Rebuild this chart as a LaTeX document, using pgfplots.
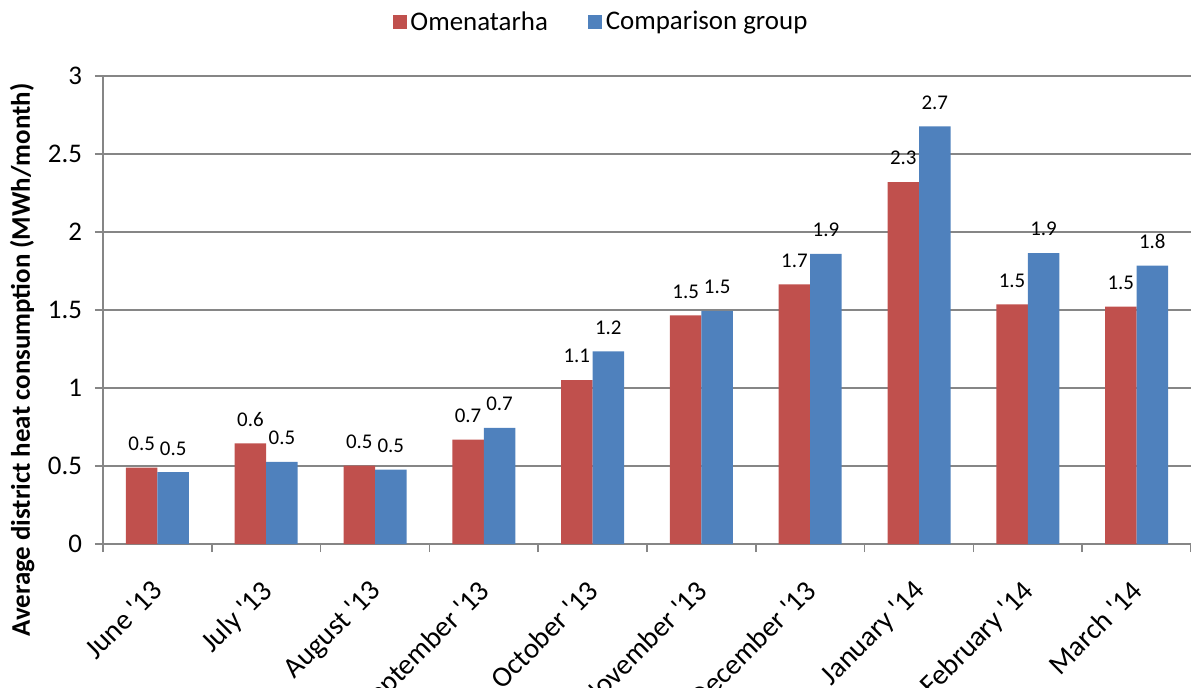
\documentclass[border=0pt]{standalone}
\usepackage{pgfplots}
\pgfplotsset{compat=1.18}
\usepackage{fontspec}
\setmainfont{Carlito}
\definecolor{redbar}{HTML}{C0504D}
\definecolor{bluebar}{HTML}{4F81BD}
\definecolor{gridgray}{HTML}{868686}
\newcommand{\q}{\textquotesingle}
\pgfplotsset{
  sqlegend/.style={legend image code/.code={\fill[##1] (0bp,-3.5bp) rectangle (7bp,3.5bp);}},
}
\begin{document}
\begin{tikzpicture}
\useasboundingbox (0,0) rectangle (595.5bp,344bp);
\begin{axis}[
    at={(51.5bp,72bp)}, anchor=south west,
    scale only axis, width=544bp, height=234bp,
    ybar=0pt, bar width=15.75bp,
    xmin=-0.5, xmax=9.5, ymin=0, ymax=3,
    xtick={0,...,9},
    xticklabels={June \q13, July \q13, August \q13, September \q13, October \q13,
                 November \q13, December \q13, January \q14, February \q14, March \q14},
    minor xtick={-0.5,0.5,...,9.5},
    ytick={0,0.5,...,3},
    yticklabels={0,0.5,1,1.5,2,2.5,3},
    axis x line*=bottom, axis y line*=left,
    axis line style={gridgray, line width=0.75bp, -},
    tick align=outside,
    major x tick style={draw=none},
    minor x tick style={gridgray, line width=0.75bp},
    major y tick style={gridgray, line width=0.75bp},
    major tick length=4bp, minor tick length=4bp,
    ymajorgrids, grid style={gridgray, line width=0.75bp},
    yticklabel style={font=\fontsize{13.5}{15}\selectfont, text=black, xshift=-3bp},
    xticklabel style={font=\fontsize{14.5}{16}\selectfont, text=black,
        xshift=-3.5bp, yshift=-13bp, rotate=45, anchor=north east, inner sep=0pt},
    ylabel={\textbf{Average district heat consumption (MWh/month)}},
    every axis y label/.style={at={(axis description cs:-0.0744,0.393)},
        rotate=90, anchor=center, font=\fontsize{13.5}{15}\selectfont},
    nodes near coords,
    /pgf/number format/.cd, fixed, fixed zerofill, precision=1, assume math mode=true,
    /pgfplots/.cd,
    every node near coord/.append style={font=\fontsize{10.5}{12}\selectfont, text=black, yshift=5bp},
    legend style={at={(0.4586,1.115)}, anchor=center, draw=none, fill=none,
        legend columns=2, font=\fontsize{13.5}{15}\selectfont,
        /tikz/every even column/.append style={column sep=18bp}},
    legend cell align=left,
]
\addplot[fill=redbar, draw=none, sqlegend] coordinates {
    (0,0.489) (1,0.645) (2,0.502) (3,0.669) (4,1.051)
    (5,1.466) (6,1.665) (7,2.320) (8,1.536) (9,1.521)
};
\addlegendentry{Omenatarha}
\addplot[fill=bluebar, draw=none, sqlegend] coordinates {
    (0,0.460) (1,0.526) (2,0.476) (3,0.745) (4,1.235)
    (5,1.494) (6,1.859) (7,2.677) (8,1.865) (9,1.784)
};
\addlegendentry{Comparison group}
\end{axis}
\end{tikzpicture}
\end{document}
